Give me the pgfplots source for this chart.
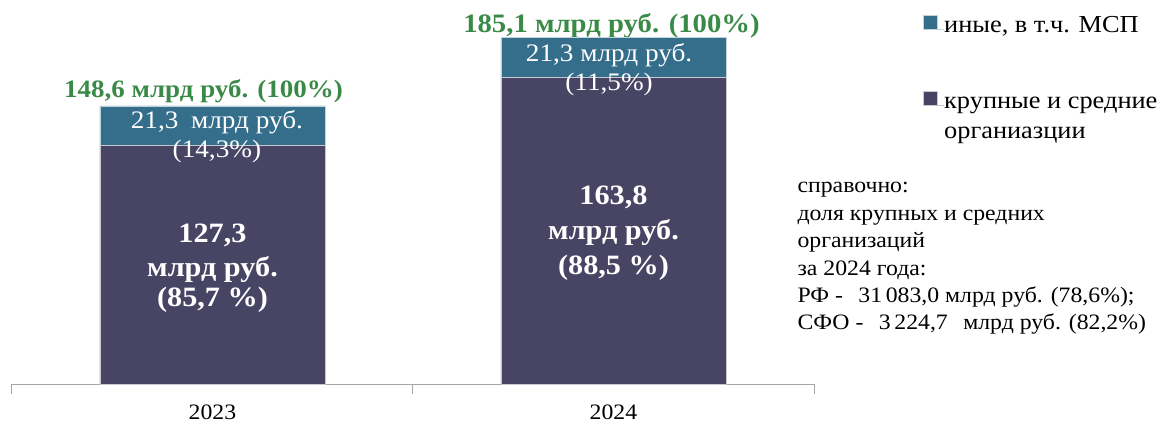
\documentclass[border=0pt]{standalone}
\usepackage{fontspec}
\setmainfont[FakeStretch=1.08]{Liberation Serif}
\usepackage{pgfplots}
\pgfplotsset{compat=1.18}
\definecolor{cteal}{HTML}{346E8B}
\definecolor{cpurp}{HTML}{484564}
\definecolor{cgreen}{HTML}{3A8A47}
\definecolor{caxis}{HTML}{A6A6A6}
\begin{document}
\begin{tikzpicture}
\begin{axis}[
  at={(0,0)}, anchor=south west,
  scale only axis, width=401pt, height=187.1pt,
  xmin=-0.5, xmax=1.5, ymin=0, ymax=200,
  ybar stacked, bar width=112.5pt,
  axis y line=none, axis x line*=bottom,
  axis line style={caxis,-},
  xtick={0,1}, xticklabels={2023,2024}, major tick length=0pt,
  extra x ticks={-0.5,0.5,1.5}, extra x tick labels={},
  extra x tick style={major tick length=5pt, tick style={caxis, line width=0.5pt}, tick align=outside},
  xticklabel style={font=\fontsize{11}{13}\selectfont, yshift=-7pt},
  clip=false,
  reverse legend,
  legend style={at={(1.1359,0.9877)}, anchor=north west, draw=none, fill=none, inner sep=0pt,
    font=\fontsize{12.2}{15}\selectfont, row sep=26pt,
    nodes={inner sep=0pt}, cells={anchor=base west}},
  legend image code/.code={\fill[#1] (0pt,1.8pt) rectangle (7pt,8.8pt); \path (0pt,1.8pt) rectangle (10pt,1.8pt);},
]
\addplot[fill=cpurp, draw=white!70!cpurp, line width=0.4pt] coordinates {(0,127.3) (1,163.8)};
\addlegendentry{\begin{tabular}[t]{@{}l@{}}крупные и средние\\[0pt]органиазции\end{tabular}}
\addplot[fill=cteal, draw=white!70!cteal, line width=0.4pt] coordinates {(0,21.3) (1,21.3)};
\addlegendentry{иные, в т.ч. МСП}

% totals
\node[anchor=base, font=\fontsize{12.5}{14}\selectfont\bfseries, text=cgreen, xshift=-4.5pt, yshift=4pt] at (axis cs:0,148.6) {148,6 млрд руб. (100\%)};
\node[anchor=base, font=\fontsize{13.3}{14}\selectfont\bfseries, text=cgreen, xshift=-1pt, yshift=2.5pt] at (axis cs:1,185.1) {185,1 млрд руб. (100\%)};
% label anchors
\coordinate (t1) at (axis cs:0.011,136.8);
\coordinate (t2) at (axis cs:0.011,120.8);
\coordinate (t3) at (axis cs:0.989,172.1);
\coordinate (t4) at (axis cs:0.989,157.1);
\coordinate (p1) at (axis cs:0,75.4);
\coordinate (p2) at (axis cs:0,57.7);
\coordinate (p3) at (axis cs:0,41.2);
\coordinate (p4) at (axis cs:1,95.7);
\coordinate (p5) at (axis cs:1,77.0);
\coordinate (p6) at (axis cs:1,58.3);
% reference note
\node[anchor=base west, align=left, inner sep=0pt, font=\fontsize{11}{13.7}\selectfont] at (rel axis cs:0.979,0.1443)
 {справочно:\\доля крупных и средних\\организаций\\за 2024 года:\\РФ -\hspace{0.7em}31\,083,0 млрд руб. (78,6\%);\\СФО -\hspace{0.7em}3\,224,7\hspace{0.7em}млрд руб. (82,2\%)};
\end{axis}
\begin{scope}[every node/.style={anchor=base, text=white, inner sep=0pt}]
\node[font=\fontsize{12.6}{14}\selectfont] at (t1) {21,3\hspace{0.5em}млрд руб.};
\node[font=\fontsize{12.6}{14}\selectfont] at (t2) {(14,3\%)};
\node[font=\fontsize{12.6}{14}\selectfont] at (t3) {21,3 млрд руб.};
\node[font=\fontsize{12.6}{14}\selectfont] at (t4) {(11,5\%)};
\node[font=\fontsize{14}{16}\selectfont\bfseries] at (p1) {127,3};
\node[font=\fontsize{14}{16}\selectfont\bfseries] at (p2) {млрд руб.};
\node[font=\fontsize{14}{16}\selectfont\bfseries] at (p3) {(85,7 \%)};
\node[font=\fontsize{14}{16}\selectfont\bfseries] at (p4) {163,8};
\node[font=\fontsize{14}{16}\selectfont\bfseries] at (p5) {млрд руб.};
\node[font=\fontsize{14}{16}\selectfont\bfseries] at (p6) {(88,5 \%)};
\end{scope}
\path (-6pt,-20pt) rectangle (573pt,192pt);
\end{tikzpicture}
\end{document}
